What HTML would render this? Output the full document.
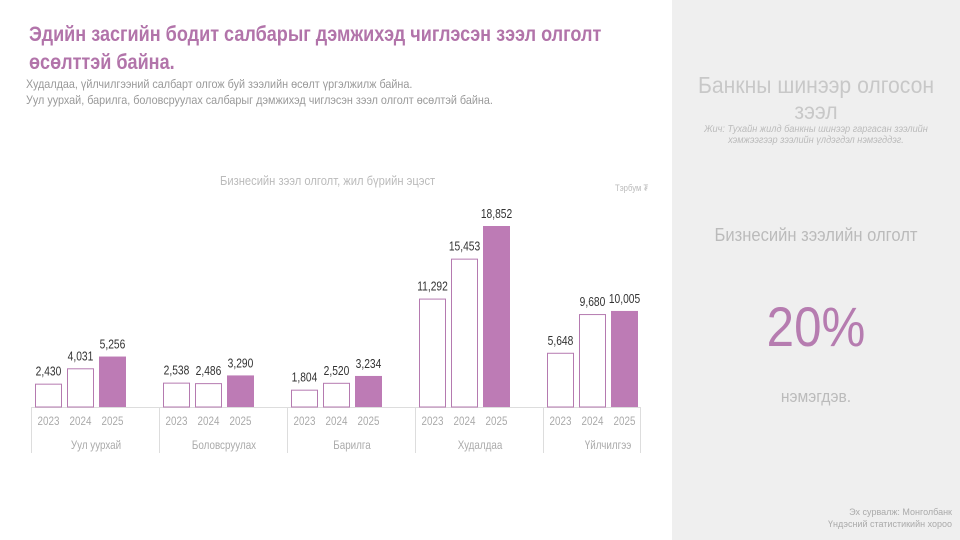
<!DOCTYPE html>
<html><head><meta charset="utf-8"><style>
body{margin:0;width:960px;height:540px;background:#fff;position:relative;overflow:hidden;font-family:"Liberation Sans Narrow","Liberation Sans",sans-serif}
.a{position:absolute;white-space:nowrap}
.n{transform:scaleX(0.86);transform-origin:left top}
.c{transform:scaleX(0.88);transform-origin:center top}
.r{transform:scaleX(0.92);transform-origin:center top}
</style></head><body>
<div class="a" style="left:672px;top:0;width:288px;height:540px;background:#efefef"></div>
<div class="a n" style="left:29px;top:21px;font-size:21px;font-weight:bold;color:#b274aa;line-height:28px">Эдийн засгийн бодит салбарыг дэмжихэд чиглэсэн зээл олголт<br>өсөлттэй байна.</div>
<div class="a" style="left:26px;top:76px;font-size:12px;color:#999;line-height:16px;transform:scaleX(0.9);transform-origin:left top">Худалдаа, үйлчилгээний салбарт олгож буй зээлийн өсөлт үргэлжилж байна.<br>Уул уурхай, барилга, боловсруулах салбарыг дэмжихэд чиглэсэн зээл олголт өсөлтэй байна.</div>
<div class="a n" style="left:220px;top:173px;font-size:13px;color:#bbb">Бизнесийн зээл олголт, жил бүрийн эцэст</div>
<div class="a n" style="left:615px;top:183px;font-size:9px;color:#bbb">Тэрбум ₮</div>
<svg class="a" style="left:0;top:0" width="672" height="540" font-family="Liberation Sans, sans-serif">
<g stroke="#ddd" stroke-width="1">
<line x1="31" y1="407.5" x2="640" y2="407.5"/>
<line x1="31.5" y1="407" x2="31.5" y2="453"/><line x1="159.5" y1="407" x2="159.5" y2="453"/><line x1="287.5" y1="407" x2="287.5" y2="453"/><line x1="415.5" y1="407" x2="415.5" y2="453"/><line x1="543.5" y1="407" x2="543.5" y2="453"/><line x1="640.5" y1="407" x2="640.5" y2="453"/>
</g>
<g id="bars"></g>
</svg>
<script>
var d=[["Уул уурхай",[2430,4031,5256]],["Боловсруулах",[2538,2486,3290]],["Барилга",[1804,2520,3234]],["Худалдаа",[11292,15453,18852]],["Үйлчилгээ",[5648,9680,10005]]];
var s='';var k=181/18852;
function t(x,y,sz,c,str){return '<text transform="translate('+x+','+y+') scale(0.82,1)" font-size="'+sz+'" fill="'+c+'" text-anchor="middle">'+str+'</text>';}
d.forEach(function(g,i){var gx=35+i*128;
g[1].forEach(function(v,j){var x=gx+j*32,h=v*k,y=407-h;
if(j<2)s+='<rect x="'+(x+0.5)+'" y="'+(y+0.5)+'" width="26" height="'+(h-0.5)+'" fill="#fff" stroke="#b57ab0" stroke-width="1"/>';
else s+='<rect x="'+x+'" y="'+y+'" width="27" height="'+h+'" fill="#bd7bb5"/>';
s+=t(x+13.5,y-8,12.5,'#333',v.toLocaleString('en-US'));
s+=t(x+13.5,425,12,'#aaa',2023+j);});
s+=t(gx+61,449,12,'#aaa',g[0]);});
document.getElementById('bars').innerHTML=s;
</script>
<div class="a r" style="left:672px;width:288px;top:72px;text-align:center;font-size:23px;color:#c8c8c8;line-height:26px">Банкны шинээр олгосон<br>зээл</div>
<div class="a r" style="left:672px;width:288px;top:124px;text-align:center;font-size:10px;font-style:italic;color:#bbb;line-height:11px">Жич: Тухайн жилд банкны шинээр гаргасан зээлийн<br>хэмжээгээр зээлийн үлдэгдэл нэмэгддэг.</div>
<div class="a r" style="left:672px;width:288px;top:225px;text-align:center;font-size:18px;color:#bbb">Бизнесийн зээлийн олголт</div>
<div class="a c" style="left:672px;width:288px;top:292px;text-align:center;font-size:56px;color:#b67cb0;line-height:70px">20%</div>
<div class="a r" style="left:672px;width:288px;top:387px;text-align:center;font-size:17px;color:#bbb">нэмэгдэв.</div>
<div class="a" style="right:8px;top:506px;text-align:right;font-size:9px;color:#aaa;line-height:12px">Эх сурвалж: Монголбанк<br>Үндэсний статистикийн хороо</div>
</body></html>
